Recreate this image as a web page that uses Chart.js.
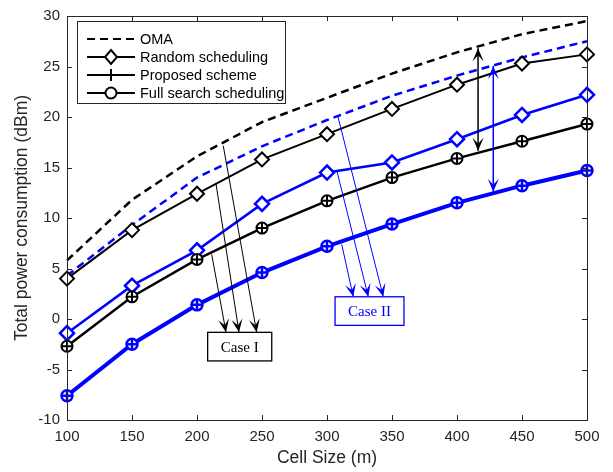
<!DOCTYPE html>
<html>
<head>
<meta charset="utf-8">
<script src="https://cdn.jsdelivr.net/npm/chart.js@4.4.1/dist/chart.umd.min.js"></script>
<style>
html,body{margin:0;padding:0;background:#fff;}
#wrap{width:613px;height:472px;}
</style>
</head>
<body>
<div id="wrap"><canvas id="c"></canvas></div>
<script>
// values
const cellSize=[100,150,200,250,300,350,400,450,500];
const omaI=[5.8,11.8,16.1,19.5,21.9,24.3,26.4,28.2,29.5];
const omaII=[4.3,9.3,14.0,17.1,19.7,22.1,24.1,25.9,27.5];
const randomI=[4.0,8.8,12.4,15.8,18.3,20.8,23.2,25.3,26.2];
const randomII=[-1.4,3.3,6.8,11.4,14.5,15.5,17.8,20.2,22.2];
const fullI=[-2.7,2.2,5.9,9.0,11.7,14.0,15.9,17.6,19.3];
const fullII=[-7.6,-2.5,1.4,4.6,7.2,9.4,11.5,13.2,14.7];
// proposed scheme sits on top of full search
const proposedI=[-2.7,2.2,5.9,9.0,11.7,14.0,15.9,17.6,19.3];
const proposedII=[-7.6,-2.5,1.4,4.6,7.2,9.4,11.5,13.2,14.7];
const legendNames=['OMA','Random scheduling','Proposed scheme','Full search scheduling'];

// annotations, in data units
const caseIArrows=[[211.3,6.4,222.3,-1.3],[214.6,13.4,232.3,-1.3],[220.2,17.15,245.9,-1.3]];
const caseIIArrows=[[311.3,7.4,320.2,2.2],[307.5,14.7,331.8,2.2],[308.5,20.0,343.3,2.2]];
const caseBoxes=[
  {x0:208.2,x1:257.5,y0:-1.32,y1:-4.15,text:'Case I',color:'#000'},
  {x0:306.2,x1:359.2,y0:2.2,y1:-0.63,text:'Case II',color:'#0000ff'}
];
const gapArrows=[{x:416.2,y0:26.8,y1:16.66,color:'#000'},{x:427.9,y0:25.05,y1:12.6,color:'#0000ff'}];

const AX='#262626', BLK='#000000', BLU='#0000ff';
const SANS="'Liberation Sans', Arial, sans-serif";

const pts=v=>v.map((y,i)=>({x:cellSize[i],y}));

function ds(label,data,color,width,extra){
  return Object.assign({label,data:pts(data),borderColor:color,backgroundColor:'#fff',
    borderWidth:width,pointBorderColor:color,pointBackgroundColor:'#fff',pointBorderWidth:2,
    pointRadius:0,tension:0,clip:false,order:2},extra||{});
}

const datasets=[
  ds('Proposed I',proposedI,BLK,2.5,{showLine:false,pointStyle:'cross',pointRadius:5.5,pointBorderWidth:2,order:0}),
  ds('Proposed II',proposedII,BLU,4,{showLine:false,pointStyle:'cross',pointRadius:5.5,pointBorderWidth:2.5,order:0}),
  ds('Full I',fullI,BLK,2.5,{pointStyle:'circle',pointRadius:5.5,pointBorderWidth:2,order:1}),
  ds('Full II',fullII,BLU,4,{pointStyle:'circle',pointRadius:5.5,pointBorderWidth:2.5,order:1}),
  ds('Random I',randomI,BLK,2,{pointStyle:'rectRot',pointRadius:7,pointBorderWidth:2}),
  ds('Random II',randomII,BLU,2.5,{pointStyle:'rectRot',pointRadius:7,pointBorderWidth:2.5}),
  ds('OMA I',omaI,BLK,2.5,{borderDash:[8,5],order:3}),
  ds('OMA II',omaII,BLU,2.5,{borderDash:[8,5],order:3})
];

function arrowHead(ctx,x1,y1,x2,y2,color){
  const a=Math.atan2(y2-y1,x2-x1), L=13, W=5.5, N=7;
  const ca=Math.cos(a), sa=Math.sin(a);
  ctx.beginPath();
  ctx.moveTo(x2,y2);
  ctx.lineTo(x2-L*ca+W*sa,y2-L*sa-W*ca);
  ctx.lineTo(x2-N*ca,y2-N*sa);
  ctx.lineTo(x2-L*ca-W*sa,y2-L*sa+W*ca);
  ctx.closePath();
  ctx.fillStyle=color;ctx.fill();
}
function arrow(ctx,x1,y1,x2,y2,color,lw,both){
  ctx.save();
  ctx.strokeStyle=color;ctx.lineWidth=lw;
  ctx.beginPath();ctx.moveTo(x1,y1);ctx.lineTo(x2,y2);ctx.stroke();
  arrowHead(ctx,x1,y1,x2,y2,color);
  if(both)arrowHead(ctx,x2,y2,x1,y1,color);
  ctx.restore();
}

const decor={
  id:'decor',
  afterDatasetsDraw(chart){
    const {ctx,chartArea:a,scales:{x,y}}=chart;
    // box with inward ticks
    ctx.save();
    ctx.strokeStyle=AX;ctx.lineWidth=1;
    ctx.strokeRect(Math.round(a.left)+0.5,Math.round(a.top)+0.5,Math.round(a.right-a.left),Math.round(a.bottom-a.top));
    ctx.beginPath();
    x.ticks.forEach(t=>{const px=Math.round(x.getPixelForValue(t.value))+0.5;
      ctx.moveTo(px,a.bottom);ctx.lineTo(px,a.bottom-5);ctx.moveTo(px,a.top);ctx.lineTo(px,a.top+5);});
    y.ticks.forEach(t=>{const py=Math.round(y.getPixelForValue(t.value))+0.5;
      ctx.moveTo(a.left,py);ctx.lineTo(a.left+5,py);ctx.moveTo(a.right,py);ctx.lineTo(a.right-5,py);});
    ctx.stroke();
    ctx.restore();

    // case arrows and boxes
    const P=(vx,vy)=>[x.getPixelForValue(vx),y.getPixelForValue(vy)];
    caseIArrows.forEach(r=>{const [a1,b1]=P(r[0],r[1]),[a2,b2]=P(r[2],r[3]);arrow(ctx,a1,b1,a2,b2,BLK,1);});
    caseIIArrows.forEach(r=>{const [a1,b1]=P(r[0],r[1]),[a2,b2]=P(r[2],r[3]);arrow(ctx,a1,b1,a2,b2,BLU,1);});
    gapArrows.forEach(g=>{const [a1,b1]=P(g.x,g.y0),[a2,b2]=P(g.x,g.y1);arrow(ctx,a1,b1,a2,b2,g.color,1.5,true);});
    caseBoxes.forEach(b=>{
      const [l,t]=P(b.x0,b.y0),[r,btm]=P(b.x1,b.y1);
      ctx.save();
      ctx.fillStyle='#fff';ctx.fillRect(l,t,r-l,btm-t);
      ctx.strokeStyle=b.color;ctx.lineWidth=1.3;ctx.strokeRect(l,t,r-l,btm-t);
      ctx.fillStyle=b.color;ctx.font="15px 'Liberation Serif', 'Times New Roman', serif";
      ctx.textAlign='center';ctx.textBaseline='middle';
      ctx.fillText(b.text,(l+r)/2,(t+btm)/2+1);
      ctx.restore();
    });

    // legend
    const L=a.left+10, T=a.top+5, W=208, H=82;
    ctx.save();
    ctx.fillStyle='#fff';ctx.fillRect(L,T,W,H);
    ctx.strokeStyle=AX;ctx.lineWidth=1;ctx.strokeRect(Math.round(L)+0.5,Math.round(T)+0.5,W,H);
    ctx.font="14.5px "+SANS;ctx.textBaseline='middle';ctx.textAlign='left';
    legendNames.forEach((name,i)=>{
      const cy=T+18+i*18, x0=L+10, x1=L+58, cx=(x0+x1)/2;
      ctx.strokeStyle=BLK;ctx.lineWidth=2;
      ctx.setLineDash(i===0?[8,5]:[]);
      ctx.beginPath();ctx.moveTo(x0,cy);ctx.lineTo(x1,cy);ctx.stroke();
      ctx.setLineDash([]);
      ctx.beginPath();
      if(i===1){ctx.moveTo(cx,cy-7);ctx.lineTo(cx+6,cy);ctx.lineTo(cx,cy+7);ctx.lineTo(cx-6,cy);ctx.closePath();
        ctx.fillStyle='#fff';ctx.fill();ctx.stroke();}
      if(i===2){ctx.moveTo(cx,cy-6);ctx.lineTo(cx,cy+6);ctx.moveTo(cx-6,cy);ctx.lineTo(cx+6,cy);ctx.stroke();}
      if(i===3){ctx.arc(cx,cy,5.5,0,Math.PI*2);ctx.fillStyle='#fff';ctx.fill();ctx.stroke();}
      ctx.fillStyle=BLK;ctx.fillText(name,L+63,cy+0.5);
    });
    ctx.restore();
  }
};

new Chart(document.getElementById('c'),{
  type:'line',
  data:{datasets},
  options:{
    responsive:true,maintainAspectRatio:false,animation:false,parsing:false,
    layout:{padding:{left:0,right:26,top:10,bottom:0}},
    plugins:{legend:{display:false},tooltip:{enabled:false}},
    scales:{
      x:{type:'linear',min:100,max:500,
        ticks:{stepSize:50,color:AX,font:{size:15,family:SANS},padding:8,maxRotation:0,autoSkip:false},
        grid:{display:false,drawTicks:false},border:{display:false},
        title:{display:true,text:'Cell Size (m)',color:AX,font:{size:17.5,family:SANS},padding:{top:0,bottom:3.5}},
        afterFit(s){s.height=52;}},
      y:{type:'linear',min:-10,max:30,
        ticks:{stepSize:5,color:AX,font:{size:15,family:SANS},padding:7},
        grid:{display:false,drawTicks:false},border:{display:false},
        title:{display:true,text:'Total power consumption (dBm)',color:AX,font:{size:17.5,family:SANS},padding:{top:11.5,bottom:0}},
        afterFit(s){s.width=67;}}
    }
  },
  plugins:[decor]
});
</script>
</body>
</html>
